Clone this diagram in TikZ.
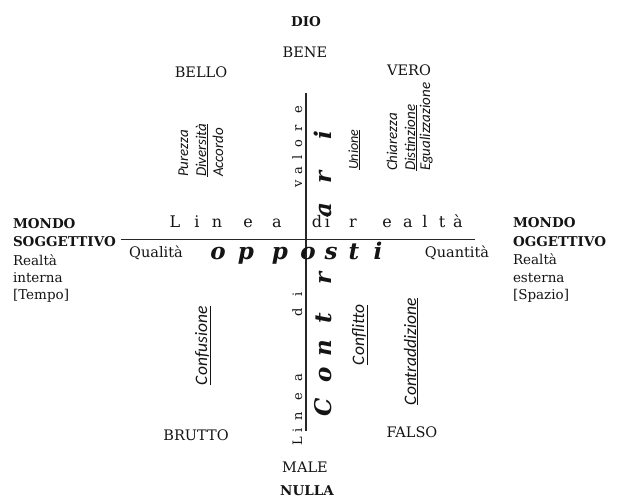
\documentclass[tikz,border=0pt]{standalone}
\usepackage{fontspec}
\setmainfont{DejaVu Serif}
\newfontfamily\labfont{Carlito}
\newcommand{\cl}[1]{\makebox[0pt]{#1}}
\begin{document}
\begin{tikzpicture}[x=1pt,y=-1pt,
  every node/.style={inner sep=0pt, outer sep=0pt, text=black!92},
  word/.style={anchor=base, font=\fontsize{14.5}{17}\selectfont},
  boldword/.style={anchor=base, font=\fontsize{13.5}{16}\bfseries\selectfont},
  sideb/.style={anchor=base west, font=\fontsize{13.5}{16}\bfseries\selectfont},
  sider/.style={anchor=base west, font=\fontsize{13.5}{16}\selectfont},
  spread/.style={anchor=base west, font=\fontsize{16}{19}\selectfont},
  vspread/.style={anchor=base west, rotate=90, font=\fontsize{13}{16}\selectfont},
  bigword/.style={anchor=base west, font=\fontsize{23}{27}\bfseries\itshape\selectfont},
  lab/.style={anchor=base west, rotate=90, font=\labfont\itshape\fontsize{15}{18}\selectfont},
  lablow/.style={lab, font=\labfont\itshape\fontsize{17.5}{20}\selectfont},
  axis/.style={draw=black!85, line width=1.2pt}]
\useasboundingbox (0,0) rectangle (619,497);
% axes
\coordinate (hl) at (120.5,239.5);
\coordinate (hr) at (475,239.5);
\coordinate (vt) at (306,93);
\coordinate (vb) at (306,431);
\draw[axis] (hl) -- (hr);
\draw[axis] (vt) -- (vb);
% top and bottom words
\node[boldword] (dio) at (306,27) {DIO};
\node[word] (bene) at (305,58) {BENE};
\node[word] (bello) at (201,78) {BELLO};
\node[word] (vero) at (409,76) {VERO};
\node[word] (brutto) at (196,440) {BRUTTO};
\node[word] (falso) at (412,437) {FALSO};
\node[word] (male) at (305,472) {MALE};
\node[boldword] (nulla) at (307,495) {NULLA};
% sides
\node[sideb] (ms1) at (13,229) {MONDO};
\node[sideb] (ms2) at (13,247) {SOGGETTIVO};
\node[sider] (ms3) at (13,266) {Realtà};
\node[sider] (ms4) at (13,283) {interna};
\node[sider] (ms5) at (13,300) {[Tempo]};
\node[sideb] (mo1) at (513,228) {MONDO};
\node[sideb] (mo2) at (513,247) {OGGETTIVO};
\node[sider] (mo3) at (513,265) {Realtà};
\node[sider] (mo4) at (513,283) {esterna};
\node[sider] (mo5) at (513,300) {[Spazio]};
\node[word] (qual) at (156,258) {Qualità};
\node[word] (quan) at (457,258) {Quantità};
% line of reality
\node[spread] (lr1) at (175,228) {\cl{L}\hspace{22pt}\cl{i}\hspace{20pt}\cl{n}\hspace{31pt}\cl{e}\hspace{29pt}\cl{a}};
\node[spread] (lr2) at (321,228) {\cl{d\,i}\hspace{32pt}\cl{r}\hspace{34pt}\cl{e}\hspace{21pt}\cl{a}\hspace{17pt}\cl{l}\hspace{17pt}\cl{t}\hspace{16pt}\cl{à}};
% line of value
\node[vspread] (lv) at (302,441) {\cl{L}\hspace{11pt}\cl{i}\hspace{14pt}\cl{n}\hspace{19pt}\cl{e}\hspace{19pt}\cl{a}\hspace{66pt}\cl{d}\hspace{18pt}\cl{i}\hspace{110pt}\cl{v}\hspace{13pt}\cl{a}\hspace{14pt}\cl{l}\hspace{13pt}\cl{o}\hspace{16pt}\cl{r}\hspace{18pt}\cl{e}};
% opposti / contrari
\node[bigword] (opp) at (218,260) {\cl{o}\hspace{28pt}\cl{p}\hspace{34pt}\cl{p}\hspace{28pt}\cl{o}\hspace{23pt}\cl{s}\hspace{23pt}\cl{t}\hspace{24pt}\cl{i}};
\node[bigword, rotate=90] (con) at (331,407) {\cl{C}\hspace{32pt}\cl{o}\hspace{27pt}\cl{n}\hspace{30pt}\cl{t}\hspace{40pt}\cl{r}\hspace{68pt}\cl{a}\hspace{33pt}\cl{r}\hspace{42pt}\cl{i}};
% italic labels
\node[lab] (pur) at (188,177) {Purezza};
\node[lab] (div) at (206,177) {\underline{Diversità}};
\node[lab] (acc) at (223,177) {Accordo};
\node[lab, font=\labfont\itshape\fontsize{14}{17}\selectfont] (uni) at (358,170) {\underline{Unione}};
\node[lab] (chi) at (397,171) {Chiarezza};
\node[lab] (dis) at (415,171) {\underline{Distinzione}};
\node[lab] (egu) at (430,171) {Egualizzazione};
\node[lablow] (cfu) at (207,385) {\underline{Confusione}};
\node[lablow] (cfl) at (364,365) {\underline{Conflitto}};
\node[lablow] (ctr) at (416,405) {\underline{Contraddizione}};
\end{tikzpicture}
\end{document}
